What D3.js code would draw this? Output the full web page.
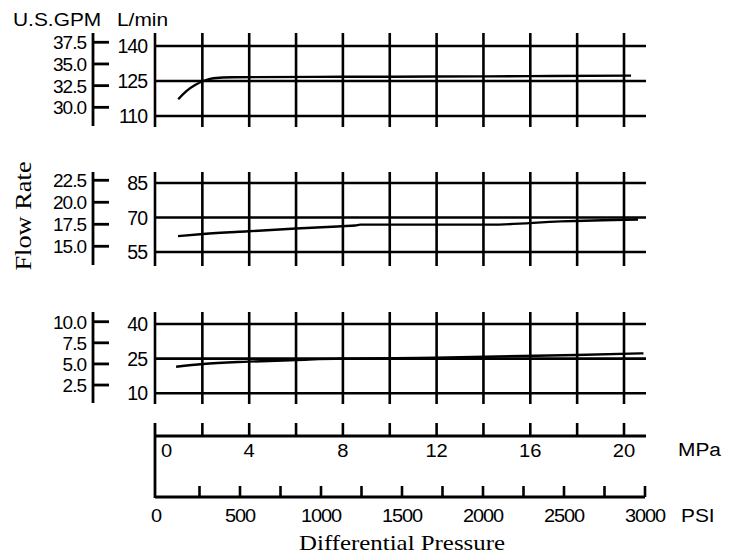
<!DOCTYPE html>
<html><head><meta charset="utf-8">
<script src="https://cdn.jsdelivr.net/npm/d3@7"></script>
<style>html,body{margin:0;padding:0;background:#fff;}svg{display:block;}</style>
</head><body>
<svg id="chart" width="730" height="556"></svg>
<script>
// ---------- data ----------
const mpaGridTicks = [0, 2, 4, 6, 8, 10, 12, 14, 16, 18, 20];
const mpaLabelTicks = [0, 4, 8, 12, 16, 20];
const psiGridTicks = [0, 250, 500, 750, 1000, 1250, 1500, 1750, 2000, 2250, 2500, 2750, 3000];
const psiLabelTicks = [0, 500, 1000, 1500, 2000, 2500, 3000];

const topLpmDomain = [110, 140];
const topLpmTicks = [110, 125, 140];
const topGpmDomain = [29.0, 37.07];
const topGpmTicks = [30.0, 32.5, 35.0, 37.5];

const midLpmDomain = [55, 85];
const midLpmTicks = [55, 70, 85];
const midGpmDomain = [14.35, 22.19];
const midGpmTicks = [15.0, 17.5, 20.0, 22.5];

const botLpmDomain = [10, 40];
const botLpmTicks = [10, 25, 40];
const botGpmDomain = [1.52, 9.73];
const botGpmTicks = [2.5, 5.0, 7.5, 10.0];

// series: [MPa, L/min]
const topFlow = [[0.97,117.2],[1.33,120.8],[1.69,123.3],[2.04,125.0],[2.47,126.2],[3.3,126.6],[8,126.8],[12,126.9],[16,127.1],[20.3,127.3]];
const midFlow = [[0.96,61.9],[2.03,62.8],[3.95,64.0],[6.0,65.2],[7.93,66.2],[8.53,66.5],[8.74,66.9],[14.3,66.9],[17.3,68.3],[20.6,69.1]];
const botFlow = [[0.88,21.5],[2.02,22.7],[3.95,23.7],[6.0,24.4],[7.93,25.0],[11.95,25.4],[17.97,26.6],[20.83,27.3]];

// ---------- layout ----------
const svg = d3.select('#chart');
svg.append('rect').attr('width',730).attr('height',556).attr('fill','#fff');
const SANS = 'Liberation Sans, Arial, Helvetica, sans-serif';
const SERIF = 'Liberation Serif, Times New Roman, serif';
const GRID_W = 2.6, LINE_W = 2.4;

const xMPa = d3.scaleLinear().domain([0, 20]).range([155.5, 624]);
const xPSI = d3.scaleLinear().domain([0, 3000]).range([159, 645]);
const gridLeft = 155, gridRight = 646;

function txt(x, y, s, o) {
  o = o || {};
  const t = svg.append('text')
    .attr('transform', `translate(${x},${y}) rotate(${o.rot||0}) scale(${o.sx||1},1)`)
    .attr('text-anchor', o.anchor || 'start')
    .style('font-family', o.family || SANS)
    .style('font-size', (o.size || 18) + 'px')
    .style('letter-spacing', (o.ls || 0) + 'px')
    .attr('fill', '#000')
    .text(s);
  return t;
}

const panels = [
  {lpmDom: topLpmDomain, lpmTicks: topLpmTicks, gpmDom: topGpmDomain, gpmTicks: topGpmTicks, data: topFlow, yr: [116, 46], frame: [33, 127]},
  {lpmDom: midLpmDomain, lpmTicks: midLpmTicks, gpmDom: midGpmDomain, gpmTicks: midGpmTicks, data: midFlow, yr: [252, 183], frame: [172, 266]},
  {lpmDom: botLpmDomain, lpmTicks: botLpmTicks, gpmDom: botGpmDomain, gpmTicks: botGpmTicks, data: botFlow, yr: [393.3, 324], frame: [312, 404]},
];

panels.forEach(p => {
  const y = d3.scaleLinear().domain(p.lpmDom).range(p.yr);
  const yg = d3.scaleLinear().domain(p.gpmDom).range(p.yr);
  const g = svg.append('g');
  g.selectAll('line.v').data(mpaGridTicks).join('line')
    .attr('x1', d => d === 0 ? gridLeft : xMPa(d)).attr('x2', d => d === 0 ? gridLeft : xMPa(d))
    .attr('y1', p.frame[0]).attr('y2', p.frame[1])
    .attr('stroke', '#000').attr('stroke-width', GRID_W);
  g.selectAll('line.h').data(p.lpmTicks).join('line')
    .attr('x1', gridLeft).attr('x2', gridRight)
    .attr('y1', d => y(d)).attr('y2', d => y(d))
    .attr('stroke', '#000').attr('stroke-width', GRID_W);
  p.lpmTicks.forEach(d => txt(147, y(d) + 7, String(d), {anchor: 'end', size: 19.5, ls: -1.0}));
  g.append('line').attr('x1', 93).attr('x2', 93).attr('y1', p.frame[0]).attr('y2', p.frame[1] - 1)
    .attr('stroke', '#000').attr('stroke-width', 2.8);
  g.selectAll('line.gt').data(p.gpmTicks).join('line')
    .attr('x1', 93).attr('x2', 109).attr('y1', d => yg(d)).attr('y2', d => yg(d))
    .attr('stroke', '#000').attr('stroke-width', 2.8);
  p.gpmTicks.forEach(d => txt(86, yg(d) + 7, d.toFixed(1), {anchor: 'end', size: 19, ls: -1.0}));
  const line = d3.line().x(d => xMPa(d[0])).y(d => y(d[1])).curve(d3.curveMonotoneX);
  g.append('path').attr('d', line(p.data)).attr('fill', 'none')
    .attr('stroke', '#000').attr('stroke-width', LINE_W);
});

// header
txt(13, 26, 'U.S.GPM', {size: 19, sx: 1.1});
txt(117, 26, 'L/min', {size: 19, sx: 1.1});
txt(31, 216, 'Flow Rate', {size: 24, rot: -90, anchor: 'middle', family: SERIF, sx: 1.1});

// MPa axis
const mpaY = 436, psiY = 497;
svg.append('line').attr('x1', gridLeft).attr('x2', gridLeft).attr('y1', 423).attr('y2', psiY + 1)
  .attr('stroke', '#000').attr('stroke-width', 2.8);
svg.append('line').attr('x1', gridLeft).attr('x2', 646).attr('y1', mpaY).attr('y2', mpaY)
  .attr('stroke', '#000').attr('stroke-width', 2.8);
svg.selectAll('line.mt').data(mpaGridTicks.filter(d => d > 0)).join('line')
  .attr('x1', d => xMPa(d)).attr('x2', d => xMPa(d)).attr('y1', 423).attr('y2', mpaY)
  .attr('stroke', '#000').attr('stroke-width', 2.6);
mpaLabelTicks.forEach(d => txt(d === 0 ? 166.5 : xMPa(d), 457, String(d), {anchor: 'middle', size: 18, sx: 1.12}));
txt(678, 455.5, 'MPa', {size: 19, sx: 1.1});

// PSI axis
svg.append('line').attr('x1', gridLeft).attr('x2', 645).attr('y1', psiY).attr('y2', psiY)
  .attr('stroke', '#000').attr('stroke-width', 2.8);
svg.selectAll('line.pt').data(psiGridTicks.filter(d => d > 0)).join('line')
  .attr('x1', d => xPSI(d)).attr('x2', d => xPSI(d)).attr('y1', 486).attr('y2', psiY)
  .attr('stroke', '#000').attr('stroke-width', 2.6);
psiLabelTicks.forEach(d => txt(d === 0 ? 156 : xPSI(d), 522, String(d), {anchor: 'middle', size: 19, sx: 1.05, ls: -1.0}));
txt(681, 521.5, 'PSI', {size: 19, sx: 1.1});

txt(402, 550, 'Differential Pressure', {size: 22, anchor: 'middle', family: SERIF, sx: 1.13});
</script>
</body></html>
